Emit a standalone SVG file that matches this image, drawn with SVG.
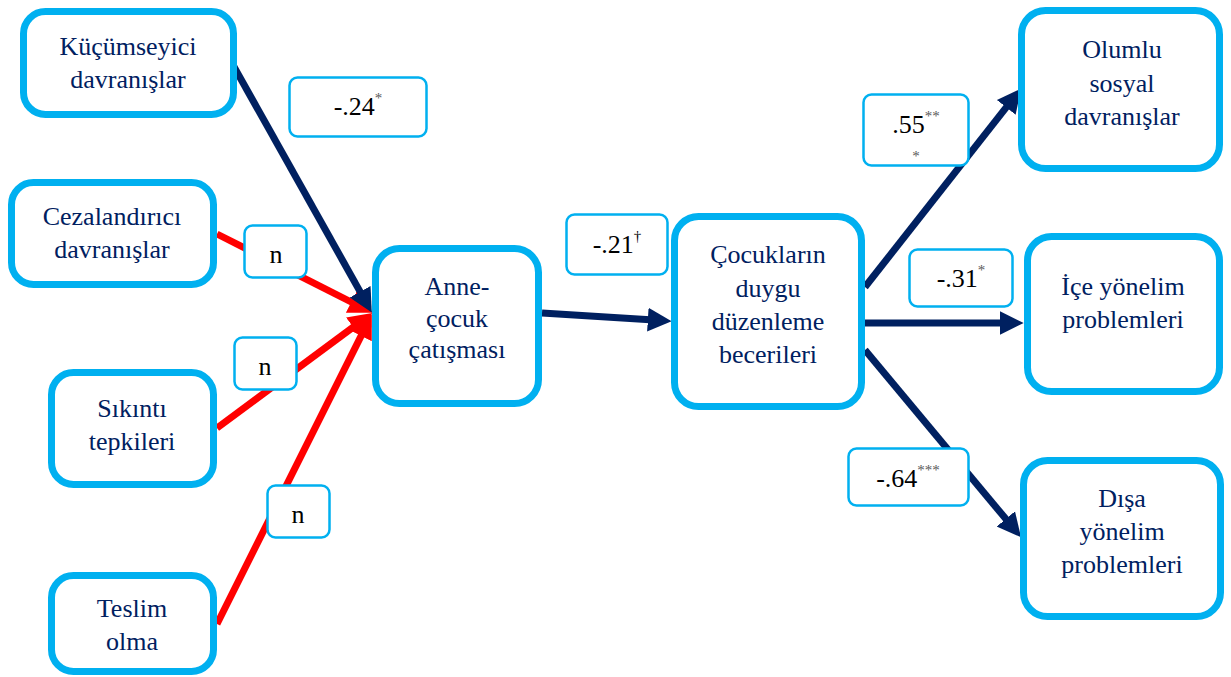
<svg xmlns="http://www.w3.org/2000/svg" width="1231" height="677" viewBox="0 0 1231 677">
<style>
.node rect{fill:#fff;stroke:#00B0F0;stroke-width:7}
.node text{font-size:26px;fill:#002060;text-anchor:middle}
.lbl rect{fill:#fff;stroke:#00B0F0;stroke-width:2.5}
.lbl text{font-size:26px;fill:#000;text-anchor:middle}
.lbl .sup{font-size:15px;fill:#595959}
.navy{stroke:#002060;stroke-width:7;fill:none}
.red{stroke:#FF0000;stroke-width:7;fill:none}
</style>
<defs>
<marker id="ahNavy" markerUnits="userSpaceOnUse" markerWidth="26" markerHeight="26" viewBox="0 -12 24 24" refX="2" refY="0" orient="auto">
<path d="M0,-11 L22,0 L0,11 z" fill="#002060"/>
</marker>
<marker id="ahRed" markerUnits="userSpaceOnUse" markerWidth="26" markerHeight="26" viewBox="0 -12 24 24" refX="2" refY="0" orient="auto">
<path d="M0,-11 L22,0 L0,11 z" fill="#FF0000"/>
</marker>
</defs>
<rect width="1231" height="677" fill="#fff"/>
<g id="connectors">
<path class="red" d="M217,234 L353.2,303.0" marker-end="url(#ahRed)"/>
<path class="red" d="M217,428 L354.9,325.9" marker-end="url(#ahRed)"/>
<path class="red" d="M217,624 L362.1,333.9" marker-end="url(#ahRed)"/>
<path class="navy" d="M233,65 L361.2,293.6" marker-end="url(#ahNavy)"/>
<path class="navy" d="M542,313 L650,319.8" marker-end="url(#ahNavy)"/>
<path class="navy" d="M865,287 L1007.6,105.7" marker-end="url(#ahNavy)"/>
<path class="navy" d="M865,323 L1002,323" marker-end="url(#ahNavy)"/>
<path class="navy" d="M865,350 L1007.2,520.6" marker-end="url(#ahNavy)"/>
</g>
<g font-family="'Liberation Serif', 'Times New Roman', 'DejaVu Serif', serif">
<g id="labels">
<g id="lbl-kucum" class="lbl"><rect x="289.5" y="77.5" width="137" height="59" rx="8"/><text x="358" y="115">-.24<tspan class="sup" dy="-12">*</tspan></text></g>
<g id="lbl-cezal" class="lbl"><rect x="244.5" y="225.5" width="62" height="52" rx="8"/><text x="276" y="263">n</text></g>
<g id="lbl-sikinti" class="lbl"><rect x="234.5" y="337.5" width="62" height="52" rx="8"/><text x="265" y="375">n</text></g>
<g id="lbl-teslim" class="lbl"><rect x="267.5" y="485.5" width="62" height="52" rx="8"/><text x="298" y="523">n</text></g>
<g id="lbl-anne" class="lbl"><rect x="566.5" y="214.5" width="101" height="60" rx="8"/><text x="617" y="253">-.21<tspan font-size="15" dy="-12">†</tspan></text></g>
<g id="lbl-olumlu" class="lbl"><rect x="863.5" y="94.5" width="105" height="71" rx="8"/><text x="916" y="133">.55<tspan class="sup" dy="-12">**</tspan></text><text class="sup" x="916" y="161">*</text></g>
<g id="lbl-ice" class="lbl"><rect x="909.5" y="249.5" width="103" height="57" rx="8"/><text x="961" y="287">-.31<tspan class="sup" dy="-12">*</tspan></text></g>
<g id="lbl-disa" class="lbl"><rect x="848.5" y="448.5" width="120" height="57" rx="8"/><text x="908" y="487">-.64<tspan class="sup" dy="-12">***</tspan></text></g>
</g>
<g id="kucumseyici" class="node"><rect x="23.5" y="11.5" width="210" height="103" rx="22"/><text x="128" y="55">Küçümseyici</text><text x="128" y="88">davranışlar</text></g>
<g id="cezalandirici" class="node"><rect x="11.5" y="182.5" width="202" height="102" rx="22"/><text x="112" y="225">Cezalandırıcı</text><text x="112" y="258">davranışlar</text></g>
<g id="sikinti" class="node"><rect x="51.5" y="372.5" width="162" height="112" rx="22"/><text x="132" y="417">Sıkıntı</text><text x="132" y="450">tepkileri</text></g>
<g id="teslim" class="node"><rect x="51.5" y="575.5" width="162" height="96" rx="22"/><text x="132" y="617">Teslim</text><text x="132" y="650">olma</text></g>
<g id="anne-cocuk" class="node"><rect x="375.5" y="248.5" width="163" height="155" rx="24"/><text x="457" y="295">Anne-</text><text x="457" y="327">çocuk</text><text x="457" y="358">çatışması</text></g>
<g id="duygu" class="node"><rect x="674.5" y="216.5" width="187" height="190" rx="24"/><text x="768" y="263">Çocukların</text><text x="768" y="297">duygu</text><text x="768" y="330">düzenleme</text><text x="768" y="363">becerileri</text></g>
<g id="olumlu" class="node"><rect x="1021.5" y="10.5" width="198" height="158" rx="24"/><text x="1122" y="58">Olumlu</text><text x="1122" y="92">sosyal</text><text x="1122" y="125">davranışlar</text></g>
<g id="ice" class="node"><rect x="1027.5" y="236.5" width="192" height="155" rx="24"/><text x="1123" y="295">İçe yönelim</text><text x="1123" y="328">problemleri</text></g>
<g id="disa" class="node"><rect x="1023.5" y="460.5" width="197" height="156" rx="24"/><text x="1122" y="507">Dışa</text><text x="1122" y="540">yönelim</text><text x="1122" y="573">problemleri</text></g>
</g>
</svg>
